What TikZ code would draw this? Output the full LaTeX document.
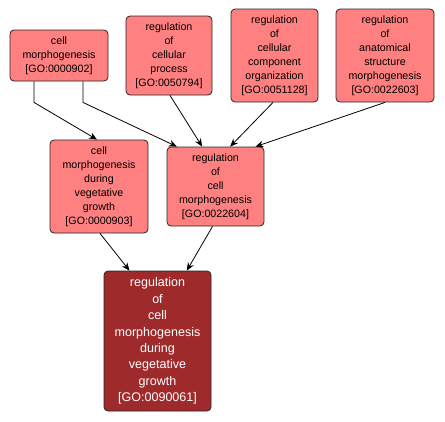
\documentclass[tikz,border=0pt]{standalone}
\usepackage{fontspec}
\setmainfont{Liberation Sans}
\usetikzlibrary{positioning}
\usetikzlibrary{arrows.meta}
\definecolor{termfill}{RGB}{255,128,128}
\definecolor{focusfill}{RGB}{158,42,43}
\tikzset{
	term/.style 2 args={draw=black!85,line width=0.6pt,rounded corners=3pt,fill=termfill,
		align=center,inner sep=1pt,font=\fontsize{8}{10.5}\selectfont,
		minimum width=#1*0.75pt,minimum height=#2*0.75pt},
	focus/.style={fill=focusfill,text=white,font=\fontsize{9.4}{12.3}\selectfont},
	isa/.style={draw=black,line width=0.6pt,-{Stealth[length=6pt,width=5pt]}}
}

\begin{document}
\begin{tikzpicture}[x=0.75pt,y=-0.75pt]
	\useasboundingbox (0,0) rectangle (445,421);
	% top row
	\node (cm)   [term={98}{51}] at (59,55.5) {cell\\morphogenesis\\{}[GO:0000902]};
	\node (rcp)  [term={86}{79}] at (169,55.5) {regulation\\of\\cellular\\process\\{}[GO:0050794]};
	\node (rcco) [term={87}{93}] at (274.5,55.5) {regulation\\of\\cellular\\component\\organization\\{}[GO:0051128]};
	\node (rasm) [term={98}{93}] at (385,55.5) {regulation\\of\\anatomical\\structure\\morphogenesis\\{}[GO:0022603]};
	% middle row
	\node (cmvg) [term={98}{93}] at (99,186.5) {cell\\morphogenesis\\during\\vegetative\\growth\\{}[GO:0000903]};
	\node (rcm)  [term={97}{79}] at (215.5,186.5) {regulation\\of\\cell\\morphogenesis\\{}[GO:0022604]};
	% bottom
	\node (rcmvg) [term={107}{140},focus] at (157.5,341) {regulation\\of\\cell\\morphogenesis\\during\\vegetative\\growth\\{}[GO:0090061]};
	% edges
	\draw [isa] (cm.south) ++(-25,0) -- ++(0,21) -- ([xshift=-1.5pt]cmvg.north);
	\draw [isa] (cm.south) ++(24,0) -- ++(0,21) -- ([xshift=-29pt]rcm.north);
	\draw [isa] (rcp.south) ++(1,0) -- ([xshift=-10pt]rcm.north);
	\draw [isa] (rcco.south) ++(-1.5,0) -- ([xshift=11pt]rcm.north);
	\draw [isa] (rasm.south) -- ([xshift=30pt]rcm.north);
	\draw [isa] (cmvg.south) ++(1,0) -- ([xshift=-21pt]rcmvg.north);
	\draw [isa] (rcm.south) ++(-3,0) -- ([xshift=22pt]rcmvg.north);
\end{tikzpicture}
\end{document}
